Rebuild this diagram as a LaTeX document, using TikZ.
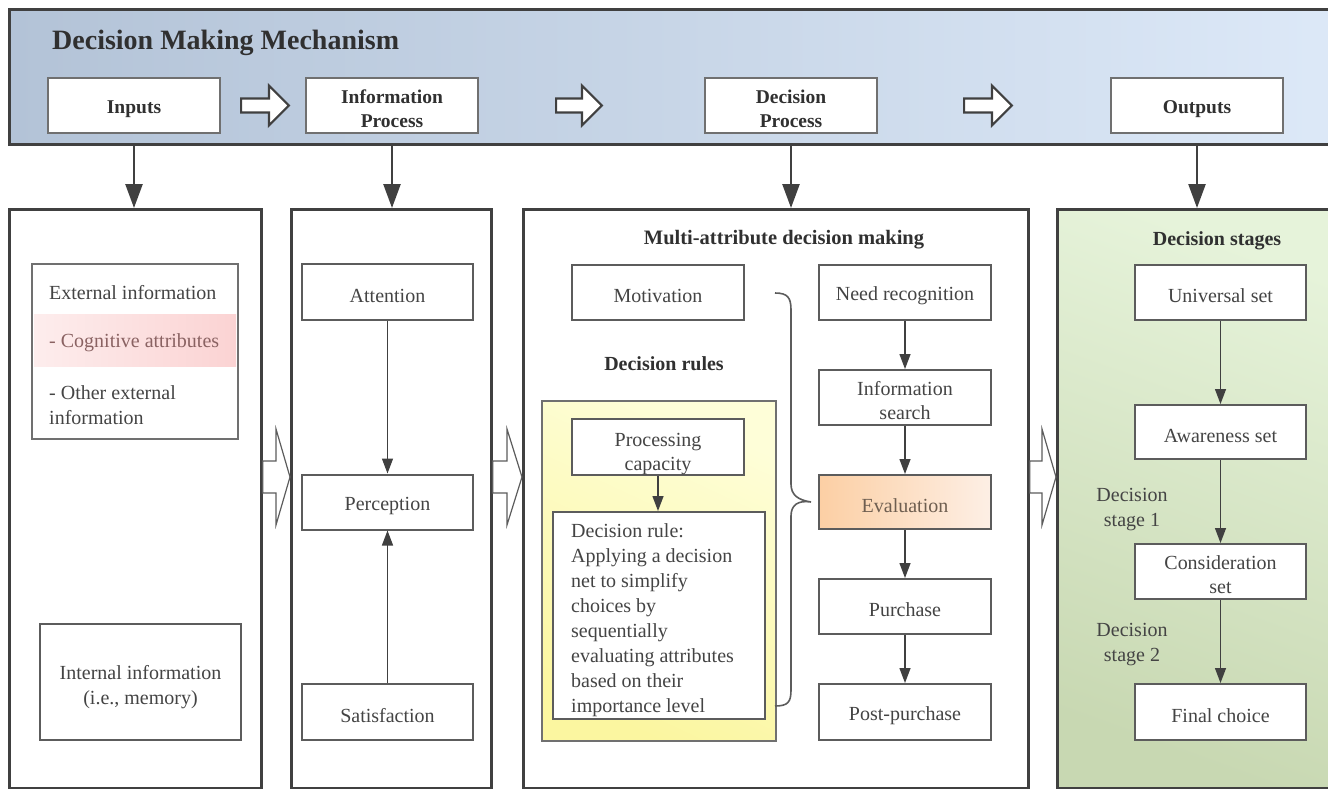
\documentclass[tikz,border=0pt]{standalone}
\usepackage{fontspec}
\setmainfont{Liberation Serif}
\usetikzlibrary{arrows.meta,calc}

\definecolor{bannerL}{HTML}{B3C3D7}
\definecolor{bannerR}{HTML}{DDE9F8}
\definecolor{edge}{HTML}{404040}
\definecolor{hdredge}{HTML}{707070}
\definecolor{boxedge}{HTML}{5C5C5C}
\definecolor{ink}{HTML}{444444}
\definecolor{inkbold}{HTML}{303030}
\definecolor{pinkL}{HTML}{FDEDED}
\definecolor{pinkR}{HTML}{FBD3D3}
\definecolor{cogtext}{HTML}{8A6262}
\definecolor{peachL}{HTML}{FCCFA4}
\definecolor{peachR}{HTML}{FDEFE5}
\definecolor{evaltext}{HTML}{6E5E50}
\definecolor{yelTop}{HTML}{FEFED8}
\definecolor{yelBot}{HTML}{FBF6A0}
\definecolor{greenTop}{HTML}{E6F3DA}
\definecolor{greenBot}{HTML}{C8D8B2}

% hollow block arrow: style, start, tip, shaft half-height, head half-height, head length
\newcommand\blockarrow[6]{%
  \draw[#1] let \p1=#2, \p2=#3 in
    (\x1,\y1+#4pt) -- (\x2-#6pt,\y1+#4pt) -- (\x2-#6pt,\y1+#5pt) -- (\x2,\y1)
    -- (\x2-#6pt,\y1-#5pt) -- (\x2-#6pt,\y1-#4pt) -- (\x1,\y1-#4pt) -- cycle;}
% invisible strut that lowers a multi-line text block inside its box
\newcommand\dropfirst[1][20.5pt]{\rule{0pt}{#1}}

\tikzset{
  txt/.style={font=\fontsize{20}{24.5}\selectfont, text=ink},
  boldtxt/.style={font=\fontsize{20}{24}\selectfont\bfseries, text=inkbold, inner sep=0},
  % the strut sets the text a little below the box centre
  lowtext/.style={execute at begin node={\rule{0pt}{#1}}},
  hbox/.style={draw=hdredge, line width=2.2pt, fill=white, minimum width=172, minimum height=55,
    font=\fontsize{19.5}{24}\selectfont\bfseries, text=inkbold, align=center, inner sep=0,
    lowtext=21pt},
  panel/.style={draw=edge, line width=2.8pt, fill=white, anchor=north west, inner sep=0},
  ibox/.style={txt, draw=boxedge, line width=2pt, fill=white, minimum width=172, minimum height=55,
    align=center, inner sep=0, lowtext=20.5pt},
  flow/.style={draw=edge, line width=1.3pt, -{Triangle[length=15pt,width=11pt]}},
  drop/.style={draw=edge, line width=2.5pt, -{Triangle[length=24pt,width=17pt]}},
  toparrow/.style={draw=edge, line width=2.2pt, fill=white, line join=miter},
  sidearrow/.style={draw=boxedge, line width=1.2pt, fill=white, line join=miter},
}

\begin{document}
\begin{tikzpicture}[x=1pt,y=-1pt]
\useasboundingbox (0,0) rectangle (1328,788);

% ---------- top banner ----------
\node[draw=edge, line width=3pt, left color=bannerL, right color=bannerR, anchor=north west,
      minimum width=1340, minimum height=135, inner sep=0] (banner) at (8,8) {};
\node[font=\fontsize{28}{30}\selectfont\bfseries, text=inkbold, anchor=west, inner sep=0]
  (title) at (52,43) {Decision Making Mechanism};

\node[hbox] (inputs) at (134,105.5) {Inputs};
\node[hbox] (info)   at (392,105.5) {\dropfirst Information\\Process};
\node[hbox] (dec)    at (791,105.5) {\dropfirst Decision\\Process};
\node[hbox] (outs)   at (1197,105.5) {Outputs};

\blockarrow{toparrow}{($(inputs.east)+(20,0)$)}{($(info.west)+(-16,0)$)}{7}{20}{20}
\blockarrow{toparrow}{($(info.east)+(77,0)$)}{($(dec.west)+(-102,0)$)}{7}{20}{20}
\blockarrow{toparrow}{($(dec.east)+(86,0)$)}{($(outs.west)+(-98,0)$)}{7}{20}{20}

% ---------- panels ----------
\node[panel, minimum width=252, minimum height=579] (p1) at (8,208) {};
\node[panel, minimum width=200, minimum height=579] (p2) at (290,208) {};
\node[panel, minimum width=505, minimum height=579] (p3) at (522,208) {};
\node[panel, minimum width=290, minimum height=579, fill=none, top color=greenTop,
      bottom color=greenBot, shading angle=-20] (p4) at (1056,208) {};

\draw[drop] (inputs.south |- banner.south) -- (inputs.south |- p1.north);
\draw[drop] (info.south |- banner.south) -- (info.south |- p2.north);
\draw[drop] (dec.south |- banner.south) -- (dec.south |- p3.north);
\draw[drop] (outs.south |- banner.south) -- (outs.south |- p4.north);

\blockarrow{sidearrow}{($(p1.north east)+(0,269)$)}{($(p2.north west)+(0,269)$)}{16}{48}{14}
\blockarrow{sidearrow}{($(p2.north east)+(0,269)$)}{($(p3.north west)+(0,269)$)}{16}{48}{15}
\blockarrow{sidearrow}{($(p3.north east)+(0,269)$)}{($(p4.north west)+(0,269)$)}{16}{48}{14}

% ---------- inputs panel ----------
\node[draw=hdredge, line width=2pt, fill=white, minimum width=206, minimum height=175,
      inner sep=0] (ext) at (135,351.5) {};
\fill[left color=pinkL, right color=pinkR] (34,314) rectangle (236,366);
\node[txt, anchor=west, inner sep=0] (exth) at (49,293) {External information};
\node[txt, anchor=west, inner sep=0, text=cogtext] (cog) at (49,343) {- Cognitive attributes};
\node[txt, anchor=west, inner sep=0, align=left] (other) at (49,405) {- Other external\\information};

\node[ibox, minimum width=201, minimum height=116] (internal) at (140.5,682)
  {\dropfirst[24pt]Internal information\\(i.e., memory)};

% ---------- information process panel ----------
\node[ibox, minimum width=171, minimum height=56] (att)  at (387.5,292) {Attention};
\node[ibox, minimum width=171] (perc) at (387.5,502) {Perception};
\node[ibox, minimum width=171, minimum height=56] (sat)  at (387.5,712) {Satisfaction};
\draw[flow] (att) -- (perc);
\draw[flow] (sat) -- (perc);

% ---------- decision process panel ----------
\node[boldtxt, font=\fontsize{20.5}{24}\selectfont\bfseries] (mtitle) at (784,240)
  {Multi-attribute decision making};
\node[ibox] (mot)  at (658,292.5) {Motivation};
\node[boldtxt] (rtitle) at (664,364) {Decision rules};

\node[draw=hdredge, line width=2pt, top color=yelTop, bottom color=yelBot, shading angle=-25,
      minimum width=234, minimum height=340, anchor=north west, inner sep=0] (rules) at (541,400) {};
\node[ibox, minimum height=54] (proc) at (658,447) {\dropfirst[27pt]Processing\\capacity};
\node[draw=boxedge, line width=2pt, fill=white, minimum width=212, minimum height=207,
      inner sep=0] (rule) at (659,615.5) {};
\node[txt, anchor=north west, inner sep=0, align=left, font=\fontsize{20}{25}\selectfont]
  (ruletext) at (571,523)
  {Decision rule:\\Applying a decision\\net to simplify\\choices by\\sequentially\\evaluating attributes\\based on their\\importance level};
\draw[flow] (proc.south) -- (proc.south |- rule.north);

\node[ibox] (need)  at (905,292.5) {Need recognition};
\node[ibox] (isrch) at (905,397.5) {\dropfirst Information\\search};
\node[ibox, minimum height=54, left color=peachL, right color=peachR, text=evaltext] (eval)
  at (905,502) {Evaluation};
\node[ibox] (purch) at (905,606.5) {Purchase};
\node[ibox, minimum height=56] (post) at (905,712) {Post-purchase};
\draw[flow] (need) -- (isrch);
\draw[flow] (isrch) -- (eval);
\draw[flow] (eval) -- (purch);
\draw[flow] (purch) -- (post);

% brace gathering the decision steps
\coordinate (bracetip) at ($(eval.west)+(-7,0)$);
\draw[draw=boxedge, line width=1.6pt]
  (775,293) .. controls (788,293) and (791,298) .. (791,310) -- (791,484)
  .. controls (791,495) and (798,500) .. (bracetip)
  .. controls (798,500) and (791,505) .. (791,516) -- (791,690)
  .. controls (791,702) and (788,706) .. (775,706);

% ---------- outputs panel ----------
\node[boldtxt] (stitle) at (1217,241) {Decision stages};
\node[ibox, minimum width=171] (univ)   at (1220.5,292.5) {Universal set};
\node[ibox, minimum width=171, minimum height=54] (aware) at (1220.5,432) {Awareness set};
\node[ibox, minimum width=171] (consid) at (1220.5,571.5) {\dropfirst Consideration\\set};
\node[ibox, minimum width=171, minimum height=56] (final) at (1220.5,712) {Final choice};
\draw[flow] (univ) -- (aware);
\draw[flow] (aware) -- (consid);
\draw[flow] (consid) -- (final);
\node[txt, align=center, inner sep=0] (stage1) at (1132,509.5) {Decision\\stage 1};
\node[txt, align=center, inner sep=0] (stage2) at (1132,644.5) {Decision\\stage 2};

\end{tikzpicture}
\end{document}
